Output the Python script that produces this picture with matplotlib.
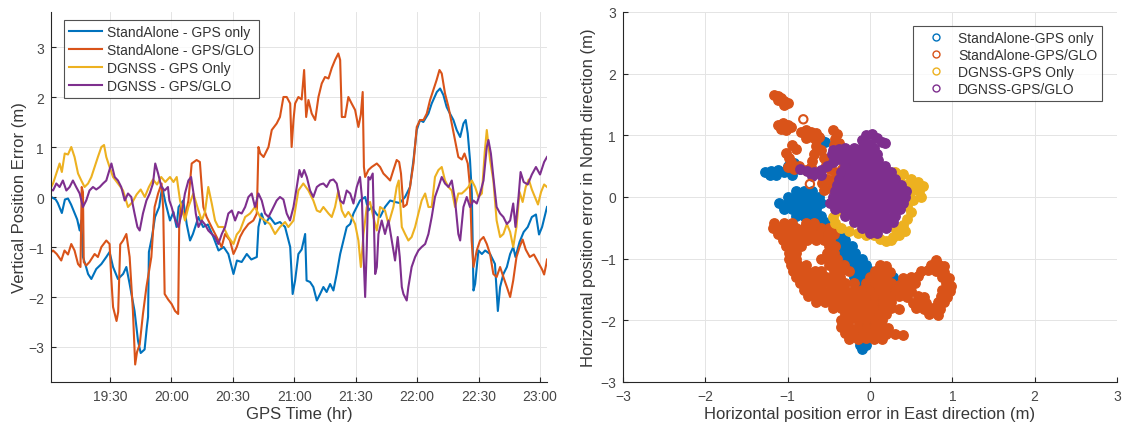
import numpy as np
import matplotlib
matplotlib.use("Agg")
import matplotlib.pyplot as plt
from matplotlib.lines import Line2D

plt.rcParams['font.family'] = ['Liberation Sans', 'DejaVu Sans']

# ---------------- colours / labels ----------------
series_labels = ["StandAlone - GPS only", "StandAlone - GPS/GLO",
                 "DGNSS - GPS Only", "DGNSS - GPS/GLO"]
cloud_labels = ["StandAlone-GPS only", "StandAlone-GPS/GLO",
                "DGNSS-GPS Only", "DGNSS-GPS/GLO"]
series_colors = ["#0072BD", "#D95319", "#EDB120", "#7E2F8E"]

# ---------------- vertical error vs time (minutes after 19:00) ----------------
sa_gps = [
    (1.3, 0.0), (3.5, -0.05), (4.5, -0.12), (6.5, -0.32), (8.0, -0.05), (9.5, -0.03),
    (11.0, -0.15), (12.5, -0.3), (14.0, -0.45), (15.2, -0.67), (16.0, -0.47), (16.8, -1.2),
    (18.0, -1.35), (19.3, -1.54), (20.9, -1.64), (22.0, -1.55), (23.3, -1.44), (25.8, -1.34),
    (28.2, -1.2), (29.8, -1.1), (31.5, -1.4), (33.9, -1.64), (36.4, -1.54), (38.0, -1.4),
    (39.6, -1.74), (42.0, -2.28), (43.7, -2.88), (45.0, -3.12), (46.9, -3.05), (48.0, -2.6),
    (48.6, -2.4), (49.0, -1.1), (50.5, -0.8), (52.0, -0.4), (54.0, -0.2), (55.5, 0.2),
    (57.0, -0.1), (59.3, -0.47), (61.0, -0.3), (62.5, -0.6), (63.5, -0.2), (65.8, -0.07),
    (67.5, -0.55), (69.1, -0.87), (70.5, -0.74), (73.2, -0.4), (75.5, -0.6), (77.8, -0.55),
    (80.5, -0.8), (83.0, -1.07), (85.5, -1.0), (87.8, -1.14), (90.3, -1.54), (92.0, -1.27),
    (94.3, -1.3), (96.8, -1.14), (99.0, -1.25), (101.7, -1.2), (102.5, -0.6), (104.0, -0.33),
    (105.7, -0.54), (108.0, -0.4), (110.6, -0.54), (113.0, -0.5), (115.5, -0.6), (118.0, -1.0),
    (119.2, -1.94), (120.4, -1.67), (122.0, -1.14), (123.6, -1.05), (125.3, -0.74), (126.0, -1.67),
    (127.7, -1.7), (129.3, -1.8), (131.0, -2.07), (132.6, -1.94), (134.2, -1.8), (135.8, -1.9),
    (137.5, -1.74), (139.1, -1.87), (140.7, -1.54), (142.4, -1.14), (144.0, -0.87), (145.6, -0.6),
    (147.3, -0.54), (148.9, -0.33), (150.5, -0.2), (152.1, -0.07), (154.6, 0.0), (156.2, -0.27),
    (157.8, -0.2), (160.3, -0.35), (161.9, -0.4), (164.3, -0.2), (166.8, -0.07), (169.2, -0.1),
    (171.5, -0.12), (174.1, 0.0), (176.5, 0.2), (178.2, 0.74), (179.8, 1.34), (181.4, 1.54),
    (183.0, 1.5), (185.5, 1.67), (187.1, 1.87), (189.6, 2.1), (191.2, 2.17), (192.8, 2.04),
    (194.4, 1.8), (196.0, 1.67), (197.7, 1.54), (199.3, 1.34), (201.0, 1.2), (202.6, 1.47),
    (203.7, 1.54), (204.7, 1.27), (205.8, 0.74), (206.7, 0.07), (207.5, -1.87), (208.3, -1.74),
    (209.9, -1.07), (211.6, -1.14), (213.2, -1.07), (215.6, -1.14), (218.0, -1.34), (219.4, -2.28),
    (220.5, -1.8), (222.1, -1.54), (223.8, -1.4), (225.4, -1.14), (226.9, -1.0), (228.0, -1.2),
    (230.0, -0.9), (232.0, -0.7), (234.0, -0.6), (236.0, -0.4), (238.0, -0.35), (239.5, -0.75),
    (241.0, -0.6), (242.5, -0.35), (243.4, -0.2),
]

sa_gps_glo = [
    (1.3, -1.1), (2.2, -1.07), (4.0, -1.14), (6.2, -1.27), (7.8, -1.07), (9.5, -1.15),
    (11.1, -0.94), (12.7, -1.07), (14.4, -1.34), (15.6, -1.4), (16.2, 0.2), (16.8, 0.1),
    (17.2, -1.3), (18.4, -1.37), (20.0, -1.3), (22.5, -1.14), (24.1, -1.2), (25.8, -1.0),
    (28.2, -0.87), (29.8, -0.94), (30.6, -1.6), (31.5, -2.2), (33.2, -2.48), (34.0, -2.3),
    (35.0, -0.95), (36.4, -0.87), (38.0, -0.74), (39.6, -1.2), (41.2, -2.28), (42.3, -3.35),
    (43.2, -3.1), (44.5, -2.95), (46.1, -2.34), (47.8, -1.8), (48.6, -1.6), (50.2, -1.2),
    (51.8, -0.2), (53.5, 0.07), (55.2, 0.27), (56.0, -0.25), (56.7, -1.94), (58.4, -2.05),
    (60.1, -2.14), (61.8, -2.28), (63.3, -2.34), (63.8, -0.6), (64.5, -0.2), (66.6, -0.4),
    (68.3, -0.07), (69.9, 0.67), (72.3, 0.74), (73.9, 0.7), (74.8, 0.2), (75.6, -0.2),
    (77.2, -0.4), (79.6, -0.6), (82.1, -0.8), (84.5, -1.0), (86.2, -0.74), (88.6, -0.87),
    (90.3, -1.14), (91.9, -1.0), (93.5, -0.8), (95.2, -0.67), (97.6, -0.54), (100.0, -0.47),
    (101.7, -0.33), (102.5, 1.0), (103.4, 0.87), (105.0, 0.8), (107.4, 1.0), (109.0, 1.34),
    (111.4, 1.47), (113.0, 1.6), (114.7, 2.0), (116.3, 2.0), (118.0, 1.87), (118.7, 1.0),
    (119.6, 1.54), (120.4, 1.87), (122.0, 2.0), (123.6, 1.95), (124.8, 2.54), (125.8, 1.6),
    (126.9, 1.94), (128.5, 1.67), (130.2, 1.54), (131.8, 2.0), (133.4, 2.27), (135.0, 2.4),
    (136.7, 2.37), (138.3, 2.58), (139.9, 2.74), (141.5, 2.87), (142.4, 2.74), (143.2, 1.6),
    (144.8, 1.6), (146.4, 2.0), (148.0, 1.87), (149.7, 1.74), (151.3, 1.4), (152.5, 1.65),
    (153.4, 2.1), (154.0, 0.6), (154.6, 0.4), (156.2, 0.54), (157.8, 0.6), (160.3, 0.67),
    (161.9, 0.6), (163.5, 0.47), (165.2, 0.4), (166.8, 0.33), (168.4, 0.54), (170.0, 0.74),
    (171.2, 0.7), (172.1, 0.47), (173.3, -0.2), (174.9, -0.15), (176.5, 0.2), (178.2, 0.67),
    (179.8, 1.4), (181.4, 1.54), (183.1, 1.54), (184.7, 1.67), (186.3, 1.94), (187.9, 2.14),
    (189.5, 2.34), (190.9, 2.54), (192.0, 2.47), (193.6, 2.07), (195.3, 1.8), (196.9, 1.47),
    (198.5, 1.14), (200.1, 0.8), (201.8, 0.75), (203.1, 0.87), (204.7, 0.67), (205.8, 0.2),
    (206.6, -0.87), (207.5, -1.4), (209.1, -1.07), (210.7, -0.87), (212.4, -0.8), (214.0, -0.94),
    (215.6, -1.14), (217.2, -1.54), (218.8, -1.6), (220.5, -1.4), (222.1, -1.6), (223.8, -1.8),
    (225.4, -2.0), (226.9, -1.67), (228.5, -1.2), (230.0, -1.0), (231.5, -0.85), (233.0, -1.05),
    (235.0, -1.2), (237.0, -1.15), (239.0, -1.3), (241.0, -1.45), (242.0, -1.55), (243.0, -1.35),
    (243.4, -1.25),
]

dg_gps = [
    (1.3, 0.2), (2.2, 0.27), (3.8, 0.47), (5.4, 0.67), (6.5, 0.5), (7.9, 0.87), (9.5, 0.85),
    (11.1, 1.0), (12.7, 0.8), (14.4, 0.47), (16.0, 0.33), (17.6, 0.2), (19.3, 0.27), (20.9, 0.4),
    (22.5, 0.6), (24.1, 0.8), (25.8, 1.0), (27.1, 1.04), (28.2, 0.8), (29.8, 0.6), (31.5, 0.4),
    (33.9, 0.27), (36.4, 0.13), (38.8, -0.2), (41.0, -0.1), (43.0, 0.05), (45.0, 0.15),
    (47.0, 0.0), (49.0, 0.2), (51.0, 0.35), (53.0, 0.25), (55.0, 0.4), (57.0, 0.3), (59.3, 0.4),
    (61.0, 0.3), (62.6, 0.4), (64.2, -0.07), (66.6, -0.47), (68.3, -0.2), (70.7, 0.07),
    (73.2, -0.27), (74.8, -0.47), (76.4, -0.3), (78.0, 0.2), (79.7, -0.13), (81.3, -0.47),
    (82.9, -0.6), (85.4, -0.6), (87.8, -0.8), (90.3, -0.94), (91.9, -0.75), (93.5, -0.67),
    (96.0, -0.4), (98.4, -0.33), (100.8, -0.2), (103.3, -0.4), (105.7, -0.47), (108.1, -0.54),
    (110.6, -0.74), (113.0, -0.6), (115.5, -0.5), (117.1, -0.6), (119.6, -0.47), (122.0, 0.13),
    (124.4, 0.27), (126.9, 0.13), (129.3, -0.07), (131.0, -0.27), (132.6, -0.3), (134.2, -0.2),
    (136.7, -0.33), (138.3, -0.4), (139.9, -0.2), (141.5, 0.13), (143.2, -0.27), (144.8, -0.4),
    (146.4, -0.3), (148.0, -0.4), (149.7, -0.54), (151.3, -0.87), (152.5, -1.4), (153.8, -0.74),
    (155.4, -0.2), (157.0, -0.1), (158.6, -0.4), (160.3, -0.67), (161.9, -0.2), (164.3, -0.27),
    (166.0, -0.54), (168.4, -0.2), (170.0, 0.2), (171.0, 0.33), (172.5, -0.6), (174.1, -0.74),
    (175.7, -0.87), (177.3, -0.8), (179.0, -0.6), (180.6, -0.33), (182.2, -0.07), (183.9, 0.07),
    (185.5, -0.2), (187.1, -0.2), (188.7, 0.4), (190.4, 0.54), (192.0, 0.6), (193.6, 0.33),
    (195.3, 0.2), (196.9, 0.13), (198.5, -0.2), (200.1, 0.07), (201.8, 0.07), (203.4, 0.13),
    (205.0, 0.2), (206.7, 0.33), (208.3, 0.2), (209.9, 0.0), (211.6, 0.07), (213.0, 0.9),
    (214.0, 1.34), (215.6, 0.74), (217.2, 0.33), (218.8, -0.47), (220.5, -0.8), (222.1, -0.74),
    (223.8, -0.54), (225.4, -0.7), (226.9, -1.0), (228.5, -0.6), (230.0, 0.1), (231.5, -0.1),
    (233.0, 0.2), (234.5, 0.35), (236.0, 0.15), (237.5, 0.0), (239.0, -0.15), (240.5, 0.1),
    (242.0, 0.25), (243.4, 0.2),
]

dg_gps_glo = [
    (1.3, 0.15), (2.2, 0.13), (3.8, 0.27), (5.4, 0.2), (7.0, 0.33), (8.7, 0.13), (10.3, 0.2),
    (11.9, 0.33), (13.5, 0.2), (15.2, 0.07), (16.8, -0.2), (18.4, -0.07), (20.0, 0.13),
    (21.7, 0.2), (23.3, 0.15), (25.0, 0.2), (26.6, 0.27), (28.2, 0.33), (30.7, 0.67), (32.3, 0.4),
    (33.9, 0.33), (35.5, 0.2), (37.2, -0.07), (38.8, 0.07), (40.4, 0.0), (42.0, -0.33),
    (43.4, -0.6), (44.5, -0.67), (46.1, -0.33), (47.8, -0.07), (49.4, 0.07), (51.0, 0.27),
    (52.1, 0.67), (53.5, 0.47), (55.1, 0.2), (56.7, 0.13), (58.3, 0.2), (59.0, -0.07),
    (60.1, -0.2), (61.8, -0.45), (63.4, -0.6), (65.0, -0.33), (66.6, 0.07), (68.3, 0.33),
    (69.6, 0.4), (70.7, 0.1), (71.9, -0.33), (73.2, -0.6), (74.8, -0.47), (76.4, -0.55),
    (78.0, -0.67), (79.7, -0.74), (81.3, -0.8), (82.9, -0.94), (84.6, -0.74), (86.2, -0.6),
    (87.8, -0.33), (89.5, -0.27), (91.1, -0.47), (92.7, -0.3), (94.3, -0.33), (96.0, -0.2),
    (97.6, 0.0), (99.2, 0.07), (100.8, -0.2), (102.5, 0.07), (104.1, -0.07), (105.7, -0.33),
    (107.4, -0.4), (109.0, -0.27), (111.4, -0.07), (113.0, 0.0), (114.7, -0.05), (116.3, -0.33),
    (117.9, -0.47), (119.6, -0.2), (121.2, 0.2), (122.5, 0.54), (123.6, 0.4), (124.8, 0.54),
    (126.1, 0.4), (127.7, 0.13), (129.3, 0.0), (131.0, 0.2), (132.6, 0.25), (134.2, 0.27),
    (135.8, 0.2), (137.5, 0.33), (139.1, 0.35), (140.7, 0.27), (142.4, -0.07), (144.0, -0.13),
    (145.6, 0.13), (147.3, 0.07), (148.9, -0.13), (150.5, 0.2), (152.1, 0.4), (153.0, 0.0),
    (153.8, -1.14), (154.6, -2.0), (155.4, -1.0), (156.2, 0.4), (157.0, 0.35), (158.3, 0.47),
    (159.5, -1.54), (160.3, -1.4), (161.1, -0.74), (162.7, -0.47), (164.3, -0.74), (166.0, -0.47),
    (167.6, -0.87), (169.2, -1.27), (170.5, -0.8), (171.5, -1.2), (172.5, -1.8), (173.3, -1.94),
    (174.9, -2.07), (175.7, -1.8), (177.3, -1.4), (179.0, -1.2), (180.6, -1.07), (182.2, -1.0),
    (183.9, -0.94), (185.5, -0.74), (187.1, -0.4), (188.7, 0.0), (190.4, 0.2), (192.0, 0.4),
    (193.6, 0.27), (195.3, 0.2), (196.9, 0.33), (198.5, -0.07), (200.1, -0.74), (201.0, -0.87),
    (202.6, -0.2), (204.2, 0.0), (205.8, -0.2), (207.5, -0.07), (209.1, -0.13), (210.7, 0.07),
    (212.4, 0.33), (214.0, 1.0), (214.8, 1.14), (216.0, 0.87), (217.2, 0.4), (218.8, -0.2),
    (220.5, -0.33), (222.1, -0.4), (223.8, -0.54), (225.4, -0.47), (226.9, -0.13), (228.0, -0.6),
    (229.5, 0.0), (230.5, 0.5), (232.0, 0.3), (234.0, 0.25), (236.0, 0.45), (238.0, 0.6),
    (240.0, 0.45), (242.0, 0.7), (243.4, 0.8),
]

time_ticks_min = [30, 60, 90, 120, 150, 180, 210, 240]
time_tick_labels = ["19:30", "20:00", "20:30", "21:00", "21:30", "22:00", "22:30", "23:00"]
time_range_min = (1.2, 243.4)

# ---------------- horizontal error cloud (East, North) in metres ----------------
en_sa_gps = [
    (-1.28, 0.4), (-1.2, 0.42), (-1.12, 0.44), (-1.22, 0.36), (-1.14, 0.36), (-1.05, 0.4),
    (-1.0, 0.5), (-0.92, 0.55), (-0.85, 0.45), (-0.95, 0.35),
    (-0.55, 0.9), (-0.6, 0.93), (-0.64, 0.86),
    (-0.9, 0.1), (-0.8, 0.1), (-0.7, 0.1),
    (-1.0, 0.0), (-0.9, 0.0), (-0.8, 0.0), (-0.7, 0.0), (-0.62, 0.0),
    (-1.1, -0.1), (-1.0, -0.1), (-0.9, -0.1), (-0.8, -0.1), (-0.7, -0.1), (-0.6, -0.1),
    (-1.05, -0.2), (-0.95, -0.2), (-0.85, -0.2), (-0.75, -0.2), (-0.65, -0.2),
    (-0.9, -0.3), (-0.8, -0.3), (-0.7, -0.3), (-0.6, -0.3),
    (-0.75, -0.4), (-0.65, -0.4), (-0.55, -0.4),
    (-0.6, -0.5), (-0.5, -0.5), (-0.4, -0.5),
    (-0.55, -0.6), (-0.45, -0.6), (-0.35, -0.6),
    (-0.5, -0.7), (-0.4, -0.7), (-0.3, -0.7),
    (-0.42, -0.8), (-0.32, -0.8), (-0.22, -0.8),
    (-0.38, -0.9), (-0.28, -0.9), (-0.18, -0.9),
    (-0.3, -1.0), (-0.2, -1.0), (-0.1, -1.0),
    (-0.25, -1.1), (-0.15, -1.1), (-0.05, -1.1),
    (-0.2, -1.2), (-0.1, -1.2), (0.0, -1.2),
    (-0.2, -1.3), (-0.1, -1.3), (-0.02, -1.3), (0.28, -1.3),
    (-0.1, -1.4), (0.0, -1.4), (0.3, -1.4),
    (0.0, -1.5), (0.3, -1.5), (0.05, -1.6), (0.1, -1.7), (0.12, -1.8), (0.12, -1.9),
    (0.05, -1.9), (0.0, -2.0), (-0.05, -2.1), (-0.1, -2.2), (-0.12, -2.3), (-0.05, -2.3),
    (-0.12, -2.4), (-0.05, -2.4), (-0.1, -2.47),
]

en_sa_gps_glo = [
    # north-west patches
    (-1.17, 1.66), (-1.12, 1.64), (-1.08, 1.6), (-1.04, 1.56), (-1.0, 1.53), (-1.12, 1.58),
    (-1.05, 1.5),
    (-1.12, 1.17), (-1.06, 1.2), (-1.0, 1.16), (-0.96, 1.14), (-1.08, 1.1), (-1.02, 1.09),
    (-0.84, 1.05), (-0.78, 1.08), (-0.72, 1.06), (-0.66, 1.04), (-0.62, 0.98), (-0.7, 0.98),
    (-0.78, 0.96), (-0.66, 0.92),
    (-0.45, 1.08), (-0.4, 1.02), (-0.42, 0.94), (-0.38, 0.88), (-0.44, 0.84),
    (-1.02, 0.72), (-0.98, 0.64), (-0.96, 0.56), (-1.0, 0.48), (-0.92, 0.46), (-0.86, 0.5),
    (-0.78, 0.44), (-0.72, 0.48), (-0.7, 0.58), (-0.68, 0.7), (-0.66, 0.82), (-0.6, 0.76),
    (-0.56, 0.64), (-0.54, 0.52), (-0.48, 0.46), (-0.42, 0.4), (-0.38, 0.34), (-0.44, 0.28),
    (-0.52, 0.3), (-0.58, 0.22), (-0.56, 0.12), (-0.48, 0.14), (-0.42, 0.2), (-0.34, 0.46),
    (-0.3, 0.52), (-0.62, 0.4), (-0.9, 0.78), (-0.95, 0.85),
    # western lobe
    (-1.16, -0.42), (-1.05, -0.42), (-0.95, -0.42), (-0.78, -0.42), (-0.68, -0.42),
    (-1.18, -0.5), (-1.1, -0.5), (-1.0, -0.5), (-0.9, -0.5), (-0.8, -0.5), (-0.7, -0.5),
    (-0.6, -0.5), (-0.5, -0.5), (-0.42, -0.5),
    (-1.12, -0.6), (-1.02, -0.6), (-0.92, -0.6), (-0.82, -0.6), (-0.72, -0.6), (-0.62, -0.6),
    (-0.52, -0.6), (-0.44, -0.6),
    (-1.06, -0.7), (-0.96, -0.7), (-0.86, -0.7), (-0.76, -0.7), (-0.66, -0.7), (-0.56, -0.7),
    (-0.48, -0.7),
    (-1.02, -0.8), (-0.92, -0.8), (-0.84, -0.8), (-0.5, -0.8), (-0.42, -0.8),
    (-0.98, -0.9), (-0.9, -0.9), (-0.52, -0.9), (-0.44, -0.9),
    # southern mass and eastern arm
    (-0.98, -1.0), (-0.9, -1.0), (-0.6, -1.0), (-0.5, -1.0), (-0.4, -1.0), (0.8, -1.02),
    (-0.96, -1.1), (-0.87, -1.1), (-0.78, -1.1), (-0.5, -1.1), (-0.4, -1.1), (-0.31, -1.1),
    (0.12, -1.1), (0.2, -1.12), (0.74, -1.1), (0.84, -1.1), (0.9, -1.12),
    (-0.94, -1.2), (-0.85, -1.2), (-0.76, -1.2), (-0.67, -1.2), (-0.6, -1.2), (-0.44, -1.2),
    (-0.35, -1.2), (-0.26, -1.2), (0.06, -1.2), (0.15, -1.2), (0.24, -1.22), (0.62, -1.2),
    (0.7, -1.18), (0.8, -1.2), (0.9, -1.22),
    (-0.9, -1.3), (-0.81, -1.3), (-0.72, -1.3), (-0.63, -1.3), (-0.54, -1.3), (-0.45, -1.3),
    (-0.36, -1.3), (0.0, -1.3), (0.1, -1.3), (0.2, -1.3), (0.4, -1.32), (0.5, -1.3),
    (0.58, -1.28), (0.88, -1.3), (0.96, -1.32),
    (-0.85, -1.4), (-0.76, -1.4), (-0.67, -1.4), (-0.58, -1.4), (-0.49, -1.4), (-0.4, -1.4),
    (-0.3, -1.4), (-0.2, -1.4), (-0.05, -1.4), (0.05, -1.4), (0.15, -1.4), (0.25, -1.4),
    (0.35, -1.42), (0.45, -1.4), (0.55, -1.4), (0.92, -1.4), (0.98, -1.45),
    (-0.8, -1.5), (-0.7, -1.5), (-0.6, -1.5), (-0.5, -1.5), (-0.4, -1.5), (-0.3, -1.5),
    (-0.2, -1.5), (-0.1, -1.5), (0.0, -1.5), (0.1, -1.5), (0.2, -1.5), (0.3, -1.5),
    (0.4, -1.5), (0.5, -1.52), (0.88, -1.5), (0.97, -1.52),
    (-0.75, -1.6), (-0.65, -1.6), (-0.55, -1.6), (-0.45, -1.6), (-0.35, -1.6), (-0.25, -1.6),
    (-0.15, -1.6), (-0.05, -1.6), (0.05, -1.6), (0.15, -1.6), (0.25, -1.6), (0.35, -1.6),
    (0.45, -1.62), (0.58, -1.6), (0.66, -1.62), (0.86, -1.6), (0.93, -1.62),
    (-0.65, -1.7), (-0.55, -1.7), (-0.45, -1.7), (-0.35, -1.7), (-0.25, -1.7), (-0.15, -1.7),
    (-0.05, -1.7), (0.05, -1.7), (0.15, -1.7), (0.25, -1.7), (0.52, -1.72), (0.6, -1.7),
    (0.68, -1.72), (0.82, -1.7), (0.9, -1.7),
    (-0.45, -1.8), (-0.35, -1.8), (-0.25, -1.8), (-0.15, -1.8), (-0.05, -1.8), (0.05, -1.8),
    (0.15, -1.8), (0.25, -1.8), (0.35, -1.82), (0.56, -1.8), (0.66, -1.82), (0.76, -1.8),
    (0.85, -1.82),
    (-0.3, -1.9), (-0.2, -1.9), (-0.1, -1.9), (0.0, -1.9), (0.1, -1.9), (0.2, -1.9),
    (0.72, -1.9), (0.82, -1.92),
    (-0.35, -2.0), (-0.25, -2.0), (-0.15, -2.0), (-0.05, -2.0), (0.05, -2.0), (0.15, -2.0),
    (-0.35, -2.1), (-0.25, -2.1), (-0.15, -2.1), (-0.05, -2.1), (0.05, -2.1), (0.15, -2.1),
    (0.22, -2.12),
    (-0.3, -2.2), (-0.2, -2.2), (-0.1, -2.2), (0.0, -2.2), (0.1, -2.2), (0.2, -2.22),
    (0.3, -2.22), (0.4, -2.24),
    (-0.25, -2.3), (-0.15, -2.3), (-0.05, -2.28), (0.05, -2.3), (0.15, -2.3),
]
# isolated single fixes of the GPS/GLO standalone solution
en_sa_gps_glo_single = [(-0.81, 1.26), (-0.73, 0.21)]

en_dg_gps = [
    (0.3, 0.4), (0.4, 0.38), (0.5, 0.3), (0.58, 0.25), (0.64, 0.18), (0.6, 0.1), (0.5, 0.1),
    (0.45, 0.05), (0.52, -0.05), (0.45, -0.15), (0.5, -0.25), (0.45, -0.35), (0.4, -0.45),
    (0.35, -0.55), (0.28, -0.65), (0.2, -0.72), (0.12, -0.68), (0.05, -0.62), (-0.05, -0.62),
    (-0.15, -0.58), (-0.25, -0.55), (-0.35, -0.5), (-0.42, -0.42), (-0.45, -0.32),
    (-0.4, -0.22), (0.3, -0.5), (0.35, 0.3), (0.42, 0.2), (0.38, -0.05), (0.62, 0.0),
    (0.55, 0.2), (0.25, -0.7), (0.35, -0.62), (0.42, -0.55),
]

en_dg_gps_glo = [
    (-0.05, 1.0), (0.02, 1.02), (0.08, 0.96), (0.14, 0.9), (0.18, 0.88), (-0.1, 0.92),
    (-0.08, 0.82), (0.0, 0.86),
    (-0.85, 0.46), (-0.76, 0.42), (-0.68, 0.4), (-0.6, 0.44), (-0.52, 0.5), (-0.45, 0.56),
    (-0.38, 0.62), (-0.46, 0.7), (-0.4, 0.72), (-0.32, 0.68), (-0.7, 0.34), (-0.6, 0.36),
    (-0.45, 0.76), (-0.38, 0.78), (-0.3, 0.8),
    (-0.2, 0.8), (-0.1, 0.8), (0.0, 0.8), (0.05, 0.8),
    (-0.3, 0.7), (-0.2, 0.7), (-0.1, 0.7), (0.0, 0.7), (0.08, 0.7),
    (-0.3, 0.6), (-0.2, 0.6), (-0.1, 0.6), (0.0, 0.6), (0.1, 0.6),
    (-0.3, 0.5), (-0.2, 0.5), (-0.1, 0.5), (0.0, 0.5), (0.1, 0.5), (0.18, 0.5),
    (-0.35, 0.4), (-0.25, 0.4), (-0.15, 0.4), (-0.05, 0.4), (0.05, 0.4), (0.15, 0.4), (0.25, 0.4),
    (-0.38, 0.3), (-0.28, 0.3), (-0.18, 0.3), (-0.08, 0.3), (0.02, 0.3), (0.12, 0.3), (0.22, 0.3),
    (0.3, 0.3),
    (-0.4, 0.2), (-0.3, 0.2), (-0.2, 0.2), (-0.1, 0.2), (0.0, 0.2), (0.1, 0.2), (0.2, 0.2),
    (0.3, 0.2), (0.38, 0.2),
    (-0.42, 0.1), (-0.32, 0.1), (-0.22, 0.1), (-0.12, 0.1), (-0.02, 0.1), (0.08, 0.1),
    (0.18, 0.1), (0.28, 0.1), (0.36, 0.1), (0.44, 0.1),
    (-0.45, 0.0), (-0.35, 0.0), (-0.25, 0.0), (-0.15, 0.0), (-0.05, 0.0), (0.05, 0.0),
    (0.15, 0.0), (0.25, 0.0), (0.35, 0.0), (0.42, 0.0),
    (-0.48, -0.1), (-0.38, -0.1), (-0.28, -0.1), (-0.18, -0.1), (-0.08, -0.1), (0.02, -0.1),
    (0.12, -0.1), (0.22, -0.1), (0.32, -0.1), (0.4, -0.1),
    (-0.42, -0.2), (-0.32, -0.2), (-0.22, -0.2), (-0.12, -0.2), (-0.02, -0.2), (0.08, -0.2),
    (0.18, -0.2), (0.28, -0.2), (0.36, -0.2),
    (-0.3, -0.3), (-0.2, -0.3), (-0.1, -0.3), (0.0, -0.3), (0.1, -0.3), (0.2, -0.3), (0.3, -0.3),
    (-0.2, -0.4), (-0.1, -0.4), (0.0, -0.4), (0.1, -0.4), (0.2, -0.4), (0.28, -0.4),
    (-0.1, -0.5), (0.0, -0.5), (0.1, -0.5), (0.2, -0.5),
    (0.0, -0.58), (0.08, -0.58),
]

axis_ticks = [-3, -2, -1, 0, 1, 2, 3]

# ---------------- figure ----------------
W, H = 1124, 431
fig = plt.figure(figsize=(W / 100, H / 100), dpi=100)
ax1 = fig.add_axes([51 / W, 48 / H, 496 / W, 370 / H])
ax2 = fig.add_axes([623 / W, 48 / H, 494 / W, 370 / H])

ink = "#262626"
label_ink = "#474747"
grid_c = "#e4e4e4"


def style_axes(ax):
    for side in ("top", "right"):
        ax.spines[side].set_visible(False)
    for side in ("left", "bottom"):
        ax.spines[side].set_color(ink)
        ax.spines[side].set_linewidth(0.8)
    ax.tick_params(direction="in", length=3.5, width=0.8, colors=ink,
                   labelsize=10, labelcolor=label_ink, pad=5)
    ax.grid(True, color=grid_c, linewidth=0.7)
    ax.set_axisbelow(True)


# left: vertical error time series
for data, lab, col in zip([sa_gps, sa_gps_glo, dg_gps, dg_gps_glo], series_labels, series_colors):
    arr = np.array(data)
    ax1.plot(19 + arr[:, 0] / 60.0, arr[:, 1], color=col, lw=1.5, label=lab)

style_axes(ax1)
ax1.set_xlim(19 + time_range_min[0] / 60.0, 19 + time_range_min[1] / 60.0)
ax1.set_ylim(-3.7, 3.7)
ax1.set_yticks(axis_ticks)
ax1.set_xticks([19 + m / 60.0 for m in time_ticks_min])
ax1.set_xticklabels(time_tick_labels)
ax1.set_xlabel("GPS Time (hr)", fontsize=12, color="#383838", labelpad=2)
ax1.set_ylabel("Vertical Position Error (m)", fontsize=12, color="#383838", labelpad=1)
leg1 = ax1.legend(loc="upper left", bbox_to_anchor=(0.026, 0.978), borderaxespad=0,
                  fontsize=10, frameon=True, fancybox=False, handlelength=2.4,
                  handletextpad=0.35, labelspacing=0.28, borderpad=0.35)
leg1.get_frame().set_edgecolor(ink)
leg1.get_frame().set_linewidth(0.8)
for t in leg1.get_texts():
    t.set_color("#333333")

# right: horizontal error cloud
for data, col in zip([en_sa_gps, en_sa_gps_glo, en_dg_gps, en_dg_gps_glo], series_colors):
    arr = np.array(data)
    ax2.scatter(arr[:, 0], arr[:, 1], s=46, facecolors=col, edgecolors=col,
                linewidths=1.0, zorder=3)
single = np.array(en_sa_gps_glo_single)
ax2.scatter(single[:, 0], single[:, 1], s=36, facecolors="none",
            edgecolors=series_colors[1], linewidths=1.5, zorder=3)

style_axes(ax2)
ax2.set_xlim(-3, 3)
ax2.set_ylim(-3, 3)
ax2.set_xticks(axis_ticks)
ax2.set_yticks(axis_ticks)
ax2.set_xlabel("Horizontal position error in East direction (m)", fontsize=12,
               color="#383838", labelpad=2)
ax2.set_ylabel("Horizontal position error in North direction (m)", fontsize=12,
               color="#383838", labelpad=3)
handles = [Line2D([], [], linestyle="none", marker="o", markersize=5, mfc="none",
                  mec=c, mew=1.0) for c in series_colors]
leg2 = ax2.legend(handles, cloud_labels, loc="upper right", bbox_to_anchor=(0.97, 0.962),
                  borderaxespad=0, fontsize=10, frameon=True, fancybox=False,
                  handlelength=2.6, handletextpad=0.3, labelspacing=0.22, borderpad=0.35)
leg2.get_frame().set_edgecolor(ink)
leg2.get_frame().set_linewidth(0.8)
for t in leg2.get_texts():
    t.set_color("#333333")

fig.savefig("out.png", dpi=100)
